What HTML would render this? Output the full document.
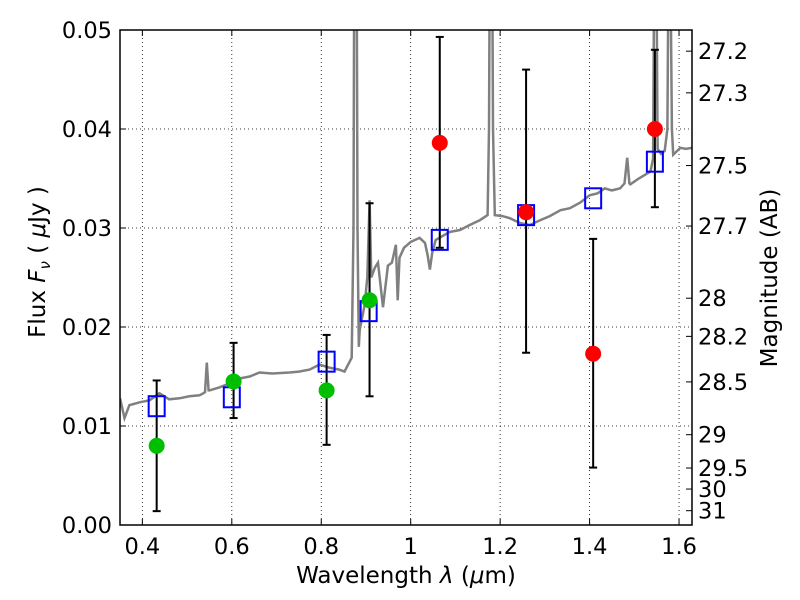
<!DOCTYPE html>
<html><head><meta charset="utf-8"><style>
html,body{margin:0;padding:0;background:#fff;width:800px;height:600px;overflow:hidden}
svg text{font-family:"DejaVu Sans","Liberation Sans",sans-serif;fill:#000}
</style></head><body>
<svg id="chart" width="800" height="600" xmlns="http://www.w3.org/2000/svg"></svg>
<script>
const specWave=[0.35,0.36,0.371,0.395,0.416,0.438,0.46,0.483,0.505,0.528,0.54,0.544,0.548,0.55,0.572,0.595,0.617,0.64,0.662,0.69,0.729,0.75,0.774,0.796,0.818,0.84,0.852,0.868,0.872,0.874,0.879,0.881,0.884,0.886,0.897,0.903,0.908,0.912,0.92,0.927,0.938,0.949,0.958,0.967,0.971,0.975,0.985,1.0,1.02,1.032,1.038,1.043,1.048,1.056,1.087,1.11,1.132,1.155,1.172,1.175,1.177,1.182,1.184,1.188,1.205,1.221,1.245,1.266,1.29,1.311,1.335,1.356,1.38,1.4,1.418,1.434,1.45,1.468,1.478,1.484,1.489,1.491,1.51,1.536,1.542,1.545,1.549,1.552,1.56,1.568,1.574,1.577,1.58,1.584,1.587,1.603,1.615,1.629];
const specFlux=[0.0128,0.0108,0.0121,0.0124,0.0126,0.0133,0.0127,0.0128,0.0130,0.0131,0.0134,0.0164,0.0136,0.0136,0.0139,0.0143,0.0148,0.0150,0.0154,0.0153,0.0154,0.0155,0.0157,0.0162,0.0159,0.0157,0.0155,0.0169,0.0300,0.0600,0.0600,0.0300,0.0180,0.0197,0.0222,0.0250,0.0328,0.0250,0.0260,0.0265,0.0220,0.0262,0.0265,0.0283,0.0227,0.0270,0.0280,0.0286,0.0290,0.0285,0.0272,0.0258,0.0275,0.0288,0.0296,0.0298,0.0303,0.0308,0.0313,0.0400,0.0600,0.0600,0.0400,0.0313,0.0312,0.0310,0.0305,0.0303,0.0308,0.0312,0.0318,0.0320,0.0326,0.0333,0.0335,0.0340,0.0338,0.0340,0.0345,0.0371,0.0345,0.0344,0.0350,0.0357,0.0370,0.0600,0.0600,0.0380,0.0375,0.0378,0.0400,0.0600,0.0600,0.0400,0.0374,0.0381,0.0380,0.0381];
const modelWave=[0.432,0.6,0.812,0.906,1.065,1.258,1.408,1.546];
const modelFlux=[0.0120,0.0129,0.0165,0.0216,0.0288,0.0313,0.0330,0.0367];
const obsWave=[0.432,0.604,0.812,0.908,1.065,1.258,1.408,1.546];
const obsFlux=[0.0080,0.0145,0.0136,0.0227,0.0386,0.0316,0.0173,0.0400];
const obsDetected=[true,true,true,true,false,false,false,false];
const errLow=[0.0014,0.0108,0.0081,0.0130,0.0280,0.0174,0.0058,0.0321];
const errHigh=[0.0146,0.0184,0.0192,0.0325,0.0493,0.0460,0.0289,0.0480];
const xTicks=[0.4,0.6,0.8,1.0,1.2,1.4,1.6];
const xTickLabels=["0.4","0.6","0.8","1","1.2","1.4","1.6"];
const yTicks=[0,0.01,0.02,0.03,0.04,0.05];
const yTickLabels=["0.00","0.01","0.02","0.03","0.04","0.05"];
const magTicks=[27.2,27.3,27.5,27.7,28,28.2,28.5,29,29.5,30,31];

const L=120,R=692,T=30,B=525,X0=0.35,X1=1.629,Y0=0,Y1=0.05;
const sx=v=>L+(v-X0)/(X1-X0)*(R-L);
const sy=v=>B-(v-Y0)/(Y1-Y0)*(B-T);
const NS="http://www.w3.org/2000/svg";
const svg=document.getElementById('chart');
function mk(tag,attrs,parent){const e=document.createElementNS(NS,tag);for(const k in attrs)e.setAttribute(k,attrs[k]);(parent||svg).appendChild(e);return e;}
const defs=mk('defs',{});const cp=mk('clipPath',{id:'clip'},defs);mk('rect',{x:L,y:T,width:R-L,height:B-T},cp);

const grid=mk('g',{});


xTicks.forEach((t,i)=>{
  const x=sx(t);
  mk('line',{x1:x,y1:T,x2:x,y2:B,stroke:'#000','stroke-width':0.8,'stroke-dasharray':'1,3'},grid);
  mk('line',{x1:x,y1:B,x2:x,y2:B-6,stroke:'#000'},grid);
  mk('line',{x1:x,y1:T,x2:x,y2:T+6,stroke:'#000'},grid);
  const tx=mk('text',{x:x,y:B+29,'font-size':22.5,'text-anchor':'middle'});
  
  
  tx.textContent=xTickLabels[i];
});
yTicks.forEach((t,i)=>{
  const y=sy(t);
  mk('line',{x1:L,y1:y,x2:R,y2:y,stroke:'#000','stroke-width':0.8,'stroke-dasharray':'1,3'},grid);
  mk('line',{x1:L,y1:y,x2:L+6,y2:y,stroke:'#000'},grid);
  const ty=mk('text',{x:L-8,y:y+8,'font-size':22.5,'text-anchor':'end'});
  
  
  ty.textContent=yTickLabels[i];
});
magTicks.forEach(m=>{
  const f=Math.pow(10,(23.9-m)/2.5);const y=sy(f);
  mk('line',{x1:R,y1:y,x2:R-6,y2:y,stroke:'#000'});
  const tm=mk('text',{x:R+6,y:y+8,'font-size':22.5});
  
  
  tm.textContent=String(m);
});

const plot=mk('g',{'clip-path':'url(#clip)'});
const pts=specWave.map((w,i)=>sx(w).toFixed(1)+','+sy(specFlux[i]).toFixed(1)).join(' ');
const sp=mk('polyline',{points:pts,fill:'none',stroke:'#808080','stroke-width':2.5},plot);


obsWave.forEach((w,i)=>{
  const x=sx(w);
  const eb=mk('g',{},plot);
  
  
  mk('line',{x1:x,y1:sy(errLow[i]),x2:x,y2:sy(errHigh[i]),stroke:'#000','stroke-width':2},eb);
  mk('line',{x1:x-4,y1:sy(errLow[i]),x2:x+4,y2:sy(errLow[i]),stroke:'#000','stroke-width':2},eb);
  mk('line',{x1:x-4,y1:sy(errHigh[i]),x2:x+4,y2:sy(errHigh[i]),stroke:'#000','stroke-width':2},eb);
});
modelWave.forEach((w,i)=>{
  const r=mk('rect',{x:sx(w)-8,y:sy(modelFlux[i])-10,width:16,height:20,fill:'none',stroke:'#0000ff','stroke-width':2},plot);
  
  
});
obsWave.forEach((w,i)=>{
  const c=mk('circle',{cx:sx(w),cy:sy(obsFlux[i]),r:8,fill:obsDetected[i]?'#00bf00':'#ff0000'},plot);
  
  
});
const fr=mk('rect',{x:L,y:T,width:R-L,height:B-T,fill:'none',stroke:'#000','stroke-width':1.5});


const xl=mk('text',{x:406,y:583,'font-size':23,'text-anchor':'middle'});


xl.innerHTML='Wavelength  <tspan font-style="italic">λ</tspan> (<tspan font-style="italic">μ</tspan>m)';
const yl=mk('text',{x:0,y:0,'font-size':23,'text-anchor':'middle',transform:'translate(45,262) rotate(-90)'});


yl.innerHTML='Flux  <tspan font-style="italic">F</tspan><tspan font-style="italic" font-size="15" dy="5">ν</tspan><tspan dy="-5">  ( </tspan><tspan font-style="italic">μ</tspan>Jy )';
const rl=mk('text',{x:0,y:0,'font-size':23,'text-anchor':'middle',transform:'translate(777,278) rotate(-90)'});


rl.textContent='Magnitude (AB)';
</script>
</body></html>
